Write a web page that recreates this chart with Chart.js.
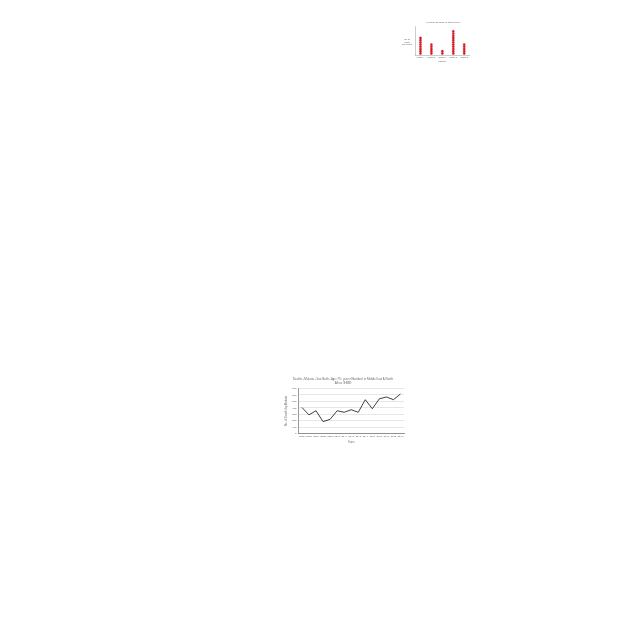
<!DOCTYPE html>
<html>
<head>
<meta charset="UTF-8">
<script src="https://cdn.jsdelivr.net/npm/chart.js@4"></script>
<style>
  body { margin: 0; background: #fff; width: 640px; height: 640px; position: relative; overflow: hidden; font-family: 'Open Sans', sans-serif; }
  .box { position: absolute; }
  #dotBox { left: 398px; top: 17px; width: 76px; height: 48px; }
  #lineBox { left: 278px; top: 373px; width: 132px; height: 76px; }
</style>
</head>
<body>
<div class="box" id="dotBox"><canvas id="dotChart"></canvas></div>
<div class="box" id="lineBox"><canvas id="lineChart"></canvas></div>
<script>
// dot stack chart (top right)
const dotCategories = ['Group A', 'Group B', 'Group C', 'Group D', 'Group E'];
const dotCounts = [8, 5, 2, 11, 5];
const dotYLabel = ['No. of', 'items', 'per group'];

// line chart (bottom)
const years = ['2005', '2006', '2007', '2008', '2009', '2010', '2011', '2012', '2013', '2014', '2015', '2016', '2017', '2018', '2019'];
const deaths = [405, 290, 354, 185, 220, 354, 330, 370, 330, 526, 385, 540, 568, 526, 615];

Chart.defaults.font.family = "'Open Sans', sans-serif";
Chart.defaults.color = '#555';
Chart.defaults.animation = false;

const dotPoints = [];
dotCounts.forEach((n, i) => {
    for (let k = 1; k <= n; k++) dotPoints.push({ x: i, y: k });
});

// horizontal y label at the left of the dot chart
const sideLabel = {
    id: 'sideLabel',
    afterDraw(chart) {
        const ctx = chart.ctx;
        const a = chart.chartArea;
        ctx.save();
        ctx.font = "2.2px 'Open Sans', sans-serif";
        ctx.fillStyle = '#555';
        ctx.textAlign = 'center';
        ctx.textBaseline = 'middle';
        const cy = (a.top + a.bottom) / 2 + 1;
        dotYLabel.forEach((t, i) => {
            ctx.fillText(t, a.left - 8, cy + (i - 1) * 2.8);
        });
        ctx.restore();
    }
};

new Chart(document.getElementById('dotChart'), {
    type: 'scatter',
    data: {
        datasets: [{
            data: dotPoints,
            pointRadius: 1.15,
            pointBackgroundColor: '#e3121e',
            pointBorderColor: '#b0101a',
            pointBorderWidth: 0.3
        }]
    },
    options: {
        responsive: true,
        maintainAspectRatio: false,
        layout: { padding: { top: 0, right: 3, bottom: 1.5, left: 17 } },
        plugins: {
            legend: { display: false },
            tooltip: { enabled: false },
            title: { display: true, text: 'Number of items in each group', font: { size: 2.3, weight: 'normal' }, padding: { top: 3.5, bottom: 3 } }
        },
        scales: {
            x: {
                type: 'linear', min: -0.5, max: 4.5,
                afterBuildTicks: s => { s.ticks = dotCategories.map((c, i) => ({ value: i })); },
                ticks: { callback: v => dotCategories[v], font: { size: 2 }, padding: 1, maxRotation: 0, autoSkip: false },
                grid: { display: false, drawTicks: false },
                border: { color: '#999', width: 0.5 },
                title: { display: true, text: 'Category', font: { size: 2 }, padding: 0.5 }
            },
            y: {
                min: 0, max: 13.3,
                ticks: { display: false },
                grid: { display: false, drawTicks: false },
                border: { color: '#999', width: 0.5 }
            }
        }
    },
    plugins: [sideLabel]
});

new Chart(document.getElementById('lineChart'), {
    type: 'line',
    data: {
        labels: years,
        datasets: [{
            data: deaths,
            borderColor: '#2b2b2b',
            borderWidth: 0.9,
            pointRadius: 0,
            tension: 0,
            fill: false
        }]
    },
    options: {
        responsive: true,
        maintainAspectRatio: false,
        layout: { padding: { top: 0, right: 6, bottom: 4, left: 4 } },
        plugins: {
            legend: { display: false },
            tooltip: { enabled: false },
            title: {
                display: true,
                text: ['Deaths - Malaria - Sex: Both - Age: 70+ years (Number) in Middle East & North', 'Africa (IHME)'],
                font: { size: 2.8, weight: 'normal' },
                lineHeight: 1.35,
                padding: { top: 4.8, bottom: 4 }
            }
        },
        scales: {
            x: {
                offset: true,
                ticks: { font: { size: 2.5 }, padding: 1.5, maxRotation: 0, autoSkip: false },
                grid: { display: false, drawTicks: false },
                border: { color: '#555', width: 0.6 },
                title: { display: true, text: 'Years', font: { size: 2.6 }, padding: 1.2 }
            },
            y: {
                min: 0, max: 700,
                ticks: { stepSize: 50, font: { size: 2.5 }, padding: 2 },
                grid: { color: '#ccc', lineWidth: 0.5, drawTicks: false },
                border: { color: '#555', width: 0.6 },
                title: { display: true, text: 'No. of Deaths by Malaria', font: { size: 2.6 }, padding: 2.5 }
            }
        }
    }
});
</script>
</body>
</html>
